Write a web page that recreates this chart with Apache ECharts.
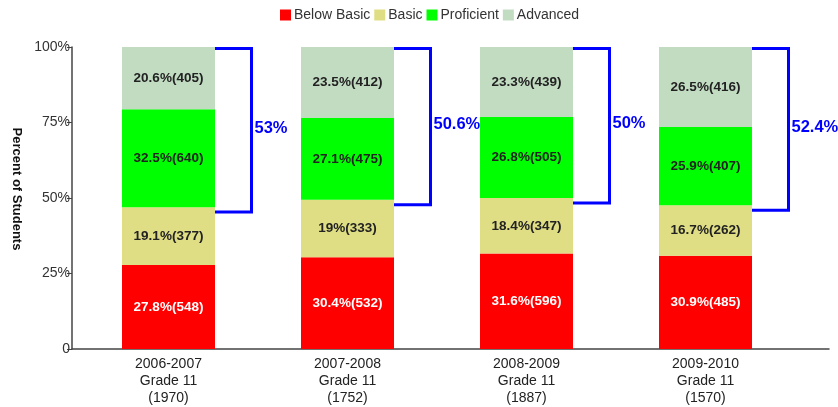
<!DOCTYPE html>
<html>
<head>
<meta charset="utf-8">
<script src="https://cdn.jsdelivr.net/npm/echarts@6/dist/echarts.min.js"></script>
<style>
    html, body { margin: 0; padding: 0; background: #fff; }
    #chart { width: 838px; height: 407px; }
</style>
</head>
<body>
<div id="chart"></div>
<script>
const years = ["2006-2007\nGrade 11\n(1970)", "2007-2008\nGrade 11\n(1752)", "2008-2009\nGrade 11\n(1887)", "2009-2010\nGrade 11\n(1570)"]
const belowBasic = [27.8, 30.4, 31.6, 30.9]
const belowBasicN = [548, 532, 596, 485]
const basic = [19.1, 19, 18.4, 16.7]
const basicN = [377, 333, 347, 262]
const proficient = [32.5, 27.1, 26.8, 25.9]
const proficientN = [640, 475, 505, 407]
const advanced = [20.6, 23.5, 23.3, 26.5]
const advancedN = [405, 412, 439, 416]
const profPlus = [53, 50.6, 50, 52.4]
const yTicks = ["0", "25%", "50%", "75%", "100%"]

const BAR_W = 93
const font = 'Liberation Sans, Arial, sans-serif'

function stack(name, values, counts, color, textColor) {
    return {
        name: name,
        type: 'bar',
        stack: 'total',
        barWidth: BAR_W,
        xAxisIndex: 0,
        yAxisIndex: 0,
        itemStyle: { color: color },
        label: {
            show: true,
            position: 'inside',
            color: textColor,
            fontFamily: font,
            fontSize: 13.5,
            fontWeight: 'bold',
            formatter: (p) => values[p.dataIndex] + '%(' + counts[p.dataIndex] + ')'
        },
        data: values
    }
}

const chart = echarts.init(document.getElementById('chart'))
chart.setOption({
    animation: false,
    legend: {
        top: 8,
        left: 280,
        padding: 0,
        itemWidth: 11,
        itemHeight: 11,
        itemGap: 4,
        icon: 'rect',
        textStyle: { fontFamily: font, fontSize: 14, color: '#333', padding: [0, 0, 0, -2] },
        data: ['Below Basic', 'Basic', 'Proficient', 'Advanced']
    },
    grid: [
        { left: 79, width: 716, top: 47, height: 302 },
        { left: 72, right: 9, top: 47, height: 302 }
    ],
    xAxis: [
        {
            type: 'category',
            gridIndex: 0,
            data: years,
            axisLine: { show: false },
            axisTick: { show: false },
            axisLabel: { margin: 7, fontFamily: font, fontSize: 14, color: '#222', lineHeight: 17 }
        },
        {
            type: 'value',
            gridIndex: 1,
            min: 0,
            max: 1,
            axisLine: { show: true, lineStyle: { color: '#444', width: 1.5 } },
            axisTick: { show: false },
            axisLabel: { show: false },
            splitLine: { show: false }
        }
    ],
    yAxis: [
        {
            type: 'value',
            gridIndex: 0,
            min: 0,
            max: 100,
            show: false
        },
        {
            type: 'value',
            gridIndex: 1,
            min: 0,
            max: 100,
            interval: 25,
            axisLine: { show: true, lineStyle: { color: '#444', width: 1.5 } },
            axisTick: { show: true, length: 5, lineStyle: { color: '#444' } },
            axisLabel: {
                margin: 2,
                fontFamily: font,
                fontSize: 14,
                color: '#333',
                formatter: (v) => yTicks[v / 25]
            },
            splitLine: { show: false }
        }
    ],
    graphic: [
        {
            type: 'text',
            x: 17,
            y: 189,
            rotation: -Math.PI / 2,
            style: {
                text: 'Percent of Students',
                font: 'bold 13px ' + font,
                fill: '#111',
                align: 'center',
                verticalAlign: 'middle'
            }
        }
    ],
    series: [
        stack('Below Basic', belowBasic, belowBasicN, '#FF0000', '#ffffff'),
        stack('Basic', basic, basicN, '#E0DE84', '#222'),
        stack('Proficient', proficient, proficientN, '#00FF00', '#222'),
        stack('Advanced', advanced, advancedN, '#C2DCC2', '#222'),
        {
            type: 'custom',
            xAxisIndex: 0,
            yAxisIndex: 0,
            silent: true,
            data: profPlus.map((v, i) => [i, v]),
            renderItem: (params, api) => {
                const i = api.value(0)
                const pct = api.value(1)
                const top = api.coord([i, 100])
                const bot = api.coord([i, 100 - pct])
                const xr = top[0] + BAR_W / 2
                const yTop = top[1] + 1.5
                const yBot = bot[1] + 5
                const xb = xr + 36.5
                return {
                    type: 'group',
                    children: [
                        {
                            type: 'polyline',
                            shape: { points: [[xr, yTop], [xb, yTop], [xb, yBot], [xr, yBot]] },
                            style: { stroke: '#0000FF', lineWidth: 3, fill: null }
                        },
                        {
                            type: 'text',
                            style: {
                                x: xb + 3,
                                y: (yTop + yBot) / 2 - 2,
                                text: pct + '%',
                                font: 'bold 16.5px ' + font,
                                fill: '#0000FF',
                                align: 'left',
                                verticalAlign: 'middle'
                            }
                        }
                    ]
                }
            }
        }
    ]
})
</script>
</body>
</html>
